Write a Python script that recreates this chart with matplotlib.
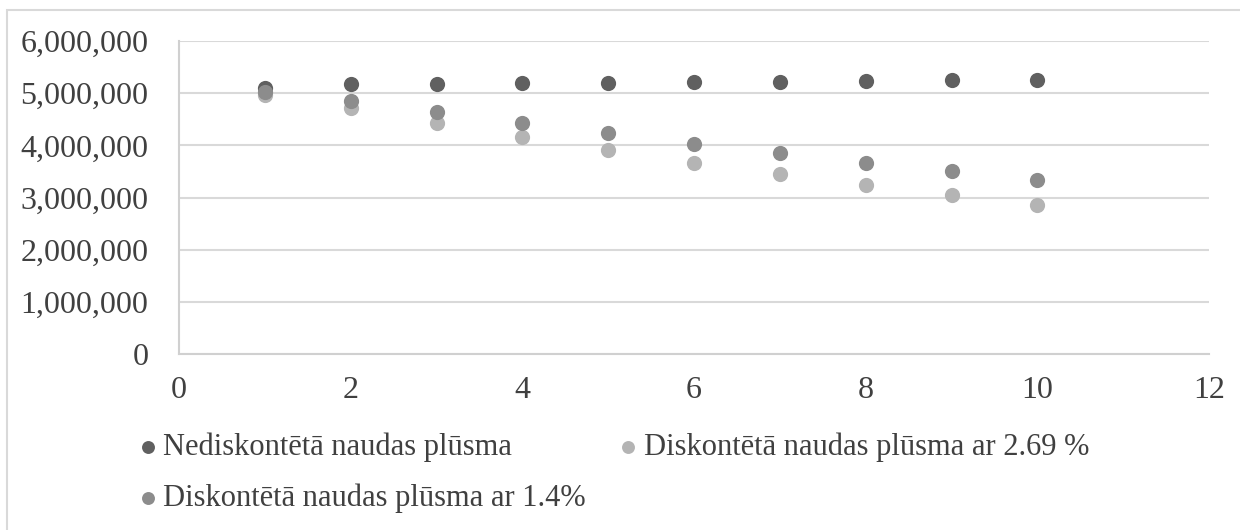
import matplotlib.pyplot as plt
from matplotlib.patches import Rectangle
from matplotlib.ticker import FuncFormatter

# years
years = [1, 2, 3, 4, 5, 6, 7, 8, 9, 10]

# cash flow values
nediskonteta = [5100000, 5170000, 5180000, 5190000, 5200000, 5210000, 5220000, 5230000, 5250000, 5260000]
disk_269 = [4970000, 4720000, 4430000, 4160000, 3910000, 3670000, 3450000, 3240000, 3040000, 2850000]
disk_14 = [5030000, 4850000, 4630000, 4430000, 4230000, 4030000, 3850000, 3670000, 3510000, 3340000]

labels = ["Nediskontētā naudas plūsma",
          "Diskontētā naudas plūsma ar 2.69 %",
          "Diskontētā naudas plūsma ar 1.4%"]
colors = ["#606060", "#b4b4b4", "#8c8c8c"]

plt.rcParams["font.family"] = ["Liberation Serif", "DejaVu Serif"]
plt.rcParams["font.size"] = 23
text_color = "#404040"

fig = plt.figure(figsize=(12.4, 5.3), dpi=100)
ax = fig.add_axes([179 / 1240, 1 - 354 / 530, (1209 - 179) / 1240, (354 - 41) / 530])

s1 = ax.scatter(years, nediskonteta, s=120, color=colors[0], zorder=3, linewidths=0)
s2 = ax.scatter(years, disk_269, s=120, color=colors[1], zorder=3, linewidths=0)
s3 = ax.scatter(years, disk_14, s=120, color=colors[2], zorder=3, linewidths=0)

ax.set_xlim(0, 12)
ax.set_ylim(0, 6000000)
ax.set_xticks(range(0, 13, 2))
ax.set_yticks(range(0, 6000001, 1000000))
ax.yaxis.set_major_formatter(FuncFormatter(lambda v, p: f"{int(v):,}"))

ax.grid(axis="y", color="#d9d9d9", linewidth=1.5, zorder=0)
ax.set_axisbelow(True)
for side in ["top", "right"]:
    ax.spines[side].set_visible(False)
for side in ["left", "bottom"]:
    ax.spines[side].set_color("#d0d0d0")
    ax.spines[side].set_linewidth(1.5)
ax.tick_params(axis="both", length=0, colors=text_color)
ax.tick_params(axis="y", pad=22)
ax.tick_params(axis="x", pad=16)

# outer chart border
fig.patches.append(Rectangle((7 / 1240, -0.1), 1.2, 1 - 10 / 530 + 0.1,
                             transform=fig.transFigure, fill=False,
                             edgecolor="#d9d9d9", linewidth=1.5))

leg = fig.legend([s1, s3, s2], [labels[0], labels[2], labels[1]],
                 ncol=2, loc="upper left", bbox_to_anchor=(140 / 1240, 1 - 433 / 530),
                 frameon=False, markerscale=0.85, handlelength=0.5, handletextpad=0.25,
                 columnspacing=1.15, labelspacing=0.7, borderpad=0, borderaxespad=0,
                 labelcolor=text_color, fontsize=22)

fig.savefig("out.png", dpi=100)
